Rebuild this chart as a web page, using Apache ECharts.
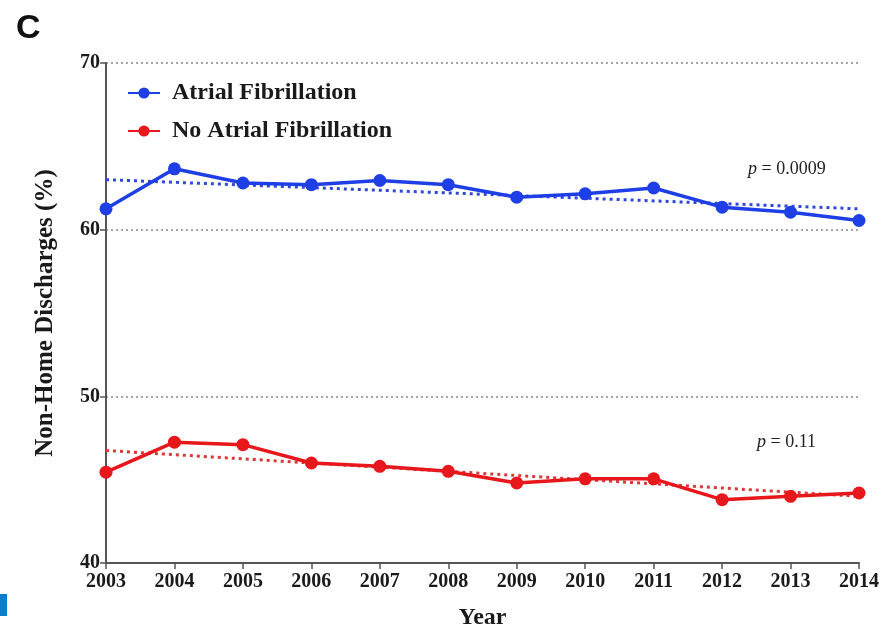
<!DOCTYPE html>
<html>
<head>
<meta charset="utf-8">
<script src="https://cdn.jsdelivr.net/npm/echarts@6/dist/echarts.min.js"></script>
<style>
  html, body { margin: 0; padding: 0; background: #fff; }
  #chart { width: 883px; height: 629px; }
</style>
</head>
<body>
<div id="chart"></div>
<script>
// Non-home discharge rates by year, with and without atrial fibrillation
const years = ['2003', '2004', '2005', '2006', '2007', '2008', '2009', '2010', '2011', '2012', '2013', '2014'];
const afValues = [61.25, 63.65, 62.8, 62.7, 62.95, 62.7, 61.95, 62.15, 62.5, 61.35, 61.05, 60.55];
const noAfValues = [45.45, 47.25, 47.1, 46.0, 45.8, 45.5, 44.8, 45.05, 45.05, 43.8, 44.0, 44.2];
// Linear trend endpoints (first and last year)
const afTrend = [63.0, 61.25];
const noAfTrend = [46.75, 44.0];
const yTicks = [40, 50, 60, 70];

const BLUE = '#1f3fe6';
const RED = '#e8171c';
const serif = '"Liberation Serif", "DejaVu Serif", serif';

function trendSeries(ends) {
  return [[years[0], ends[0]], [years[years.length - 1], ends[1]]];
}

const chart = echarts.init(document.getElementById('chart'), null, { renderer: 'canvas' });
chart.setOption({
  animation: false,
  backgroundColor: '#ffffff',
  grid: { left: 106, right: 24, top: 63, bottom: 66, outerBoundsMode: 'none', containLabel: false },
  legend: {
    left: 122, top: 76, orient: 'vertical', itemGap: 14,
    itemWidth: 32, itemHeight: 14,
    textStyle: { fontFamily: serif, fontWeight: 'bold', fontSize: 24, color: '#1a1a1a', padding: [0, 0, 0, 7] },
    data: ['Atrial Fibrillation', 'No Atrial Fibrillation']
  },
  xAxis: {
    type: 'category', data: years, boundaryGap: false,
    name: 'Year', nameLocation: 'middle', nameGap: 43,
    nameTextStyle: { fontFamily: serif, fontWeight: 'bold', fontSize: 24, color: '#1a1a1a' },
    axisLine: { lineStyle: { color: '#555', width: 2 } },
    axisTick: { show: true, alignWithLabel: true, length: 6, lineStyle: { color: '#555', width: 1.5 } },
    axisLabel: { fontFamily: serif, fontWeight: 'bold', fontSize: 20, color: '#1a1a1a', margin: 9 },
    splitLine: { show: false }
  },
  yAxis: {
    type: 'value', min: 40, max: 70, interval: 10,
    name: 'Non-Home Discharges (%)', nameLocation: 'middle', nameGap: 48,
    nameTextStyle: { fontFamily: serif, fontWeight: 'bold', fontSize: 25, color: '#1a1a1a' },
    axisLine: { show: true, lineStyle: { color: '#555', width: 2 } },
    axisTick: { show: true, length: 6, lineStyle: { color: '#555', width: 1.5 } },
    axisLabel: {
      fontFamily: serif, fontWeight: 'bold', fontSize: 20, color: '#1a1a1a', margin: 6,
      formatter: v => (yTicks.indexOf(v) >= 0 ? String(v) : '')
    },
    splitLine: { show: true, lineStyle: { color: '#888', type: [2, 3], width: 1.5 } }
  },
  series: [
    {
      name: 'Atrial Fibrillation', type: 'line', data: afValues,
      symbol: 'circle', symbolSize: 13, z: 5,
      lineStyle: { color: BLUE, width: 3.5 }, itemStyle: { color: BLUE }
    },
    {
      name: 'No Atrial Fibrillation', type: 'line', data: noAfValues,
      symbol: 'circle', symbolSize: 13, z: 5,
      lineStyle: { color: RED, width: 3.5 }, itemStyle: { color: RED }
    },
    {
      name: 'AF trend', type: 'line', data: trendSeries(afTrend),
      symbol: 'none', z: 3, silent: true,
      lineStyle: { color: '#3048d8', width: 3, type: [3, 4] }
    },
    {
      name: 'No AF trend', type: 'line', data: trendSeries(noAfTrend),
      symbol: 'none', z: 3, silent: true,
      lineStyle: { color: '#d83a3a', width: 3, type: [3, 4] }
    }
  ],
  graphic: [
    { type: 'text', left: 16, top: 12,
      style: { text: 'C', font: 'bold 34px "Liberation Sans", Arial, sans-serif', fill: '#111' } },
    { type: 'text', left: 748, top: 160,
      style: { rich: {
        i: { fontFamily: serif, fontStyle: 'italic', fontSize: 18, fill: '#222' },
        n: { fontFamily: serif, fontSize: 18, fill: '#222' } },
        text: '{i|p}{n| = 0.0009}' } },
    { type: 'text', left: 757, top: 433,
      style: { rich: {
        i: { fontFamily: serif, fontStyle: 'italic', fontSize: 18, fill: '#222' },
        n: { fontFamily: serif, fontSize: 18, fill: '#222' } },
        text: '{i|p}{n| = 0.11}' } },
    { type: 'rect', left: 0, top: 594, shape: { width: 7, height: 22 }, style: { fill: '#0a7fd0' } }
  ]
});
</script>
</body>
</html>
